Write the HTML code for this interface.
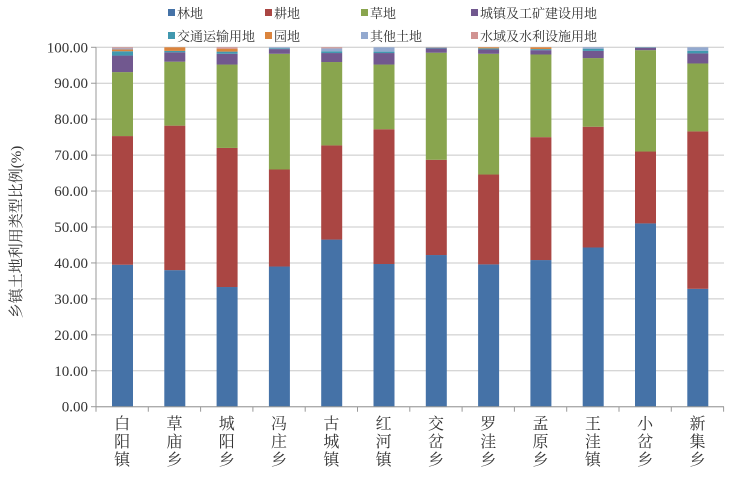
<!DOCTYPE html>
<html><head><meta charset="utf-8"><style>
html,body{margin:0;padding:0;background:#fff;width:731px;height:480px;overflow:hidden}
svg text{font-family:"Liberation Serif","Noto Serif CJK SC",serif;fill:#333}
</style></head><body>
<svg id="s" width="731" height="480" xmlns="http://www.w3.org/2000/svg"></svg>
<script>
const s=document.getElementById('s');
const NS='http://www.w3.org/2000/svg';
function el(t,a,txt){const e=document.createElementNS(NS,t);for(const k in a)e.setAttribute(k,a[k]);if(txt!==undefined)e.textContent=txt;s.appendChild(e);return e;}
const cols=['#4572A7','#AA4643','#89A54E','#71588F','#4198AF','#DB843D','#93A9CF','#D19392'];
const names=['林地','耕地','草地','城镇及工矿建设用地','交通运输用地','园地','其他土地','水域及水利设施用地'];
const y0=406.7,k=3.594,x0=96,step=52.3;
const Y=v=>y0-k*v;
for(let i=0;i<=10;i++){const y=Y(i*10);
 el('line',{x1:x0,y1:y,x2:724,y2:y,stroke:'#c8c8c8','stroke-width':1});
 el('line',{x1:x0-5,y1:y,x2:x0,y2:y,stroke:'#999','stroke-width':1});
 el('text',{x:88,y:y+5,'text-anchor':'end','font-size':'15'},(i*10).toFixed(2));}
el('line',{x1:x0,y1:Y(100),x2:x0,y2:y0,stroke:'#999','stroke-width':1});
const data=[
[39.5,35.8,17.8,4.6,1.2,0.5,0.3,0.3],
[38,40.2,17.8,2.6,0.4,1.0,0,0],
[33.3,38.7,23.2,3.0,0.6,0.8,0,0.4],
[39,27,32.2,1.3,0.2,0,0.3,0],
[46.5,26.2,23.2,2.5,0.5,0,0.8,0.3],
[39.7,37.5,18,3.2,0.4,0,1.2,0],
[42.2,26.5,29.8,1.2,0.2,0,0,0.1],
[39.6,25,33.6,1.2,0.3,0.3,0,0],
[40.8,34.2,23,1.2,0.3,0.5,0,0],
[44.3,33.6,19.1,2.0,0.6,0,0.4,0],
[51,20,28.2,0.7,0.1,0,0,0],
[32.8,43.8,18.9,2.8,0.7,0,1.0,0]];
const cats=['白阳镇','草庙乡','城阳乡','冯庄乡','古城镇','红河镇','交岔乡','罗洼乡','孟原乡','王洼镇','小岔乡','新集乡'];
data.forEach((d,i)=>{const tot=d.reduce((a,b)=>a+b,0);let c=0;const bx=x0+step*i+16;
 d.forEach((v,j)=>{v=v*100/tot;if(v<=0)return;el('rect',{x:bx,y:Y(c+v),width:21,height:v*k,fill:cols[j]});c+=v;});
 const cx=x0+step*i+step/2;
 [...cats[i]].forEach((ch,m)=>el('text',{x:cx,y:429+m*18,'text-anchor':'middle','font-size':'16'},ch));
});
el('line',{x1:x0,y1:y0,x2:724,y2:y0,stroke:'#999','stroke-width':1});
for(let i=0;i<=12;i++){const x=x0+step*i;el('line',{x1:x,y1:y0,x2:x,y2:y0+5,stroke:'#999'});}
el('text',{transform:'translate(21,232) rotate(-90)','text-anchor':'middle','font-size':'15'},'乡镇土地利用类型比例(%)');
const lx=[168,265,361,471];
names.forEach((n,i)=>{const x=lx[i%4],y=i<4?13:36;
 el('rect',{x:x,y:y-4,width:7,height:7,fill:cols[i]});
 el('text',{x:x+9,y:y+5,'font-size':'13'},n);});
</script>
</body></html>
